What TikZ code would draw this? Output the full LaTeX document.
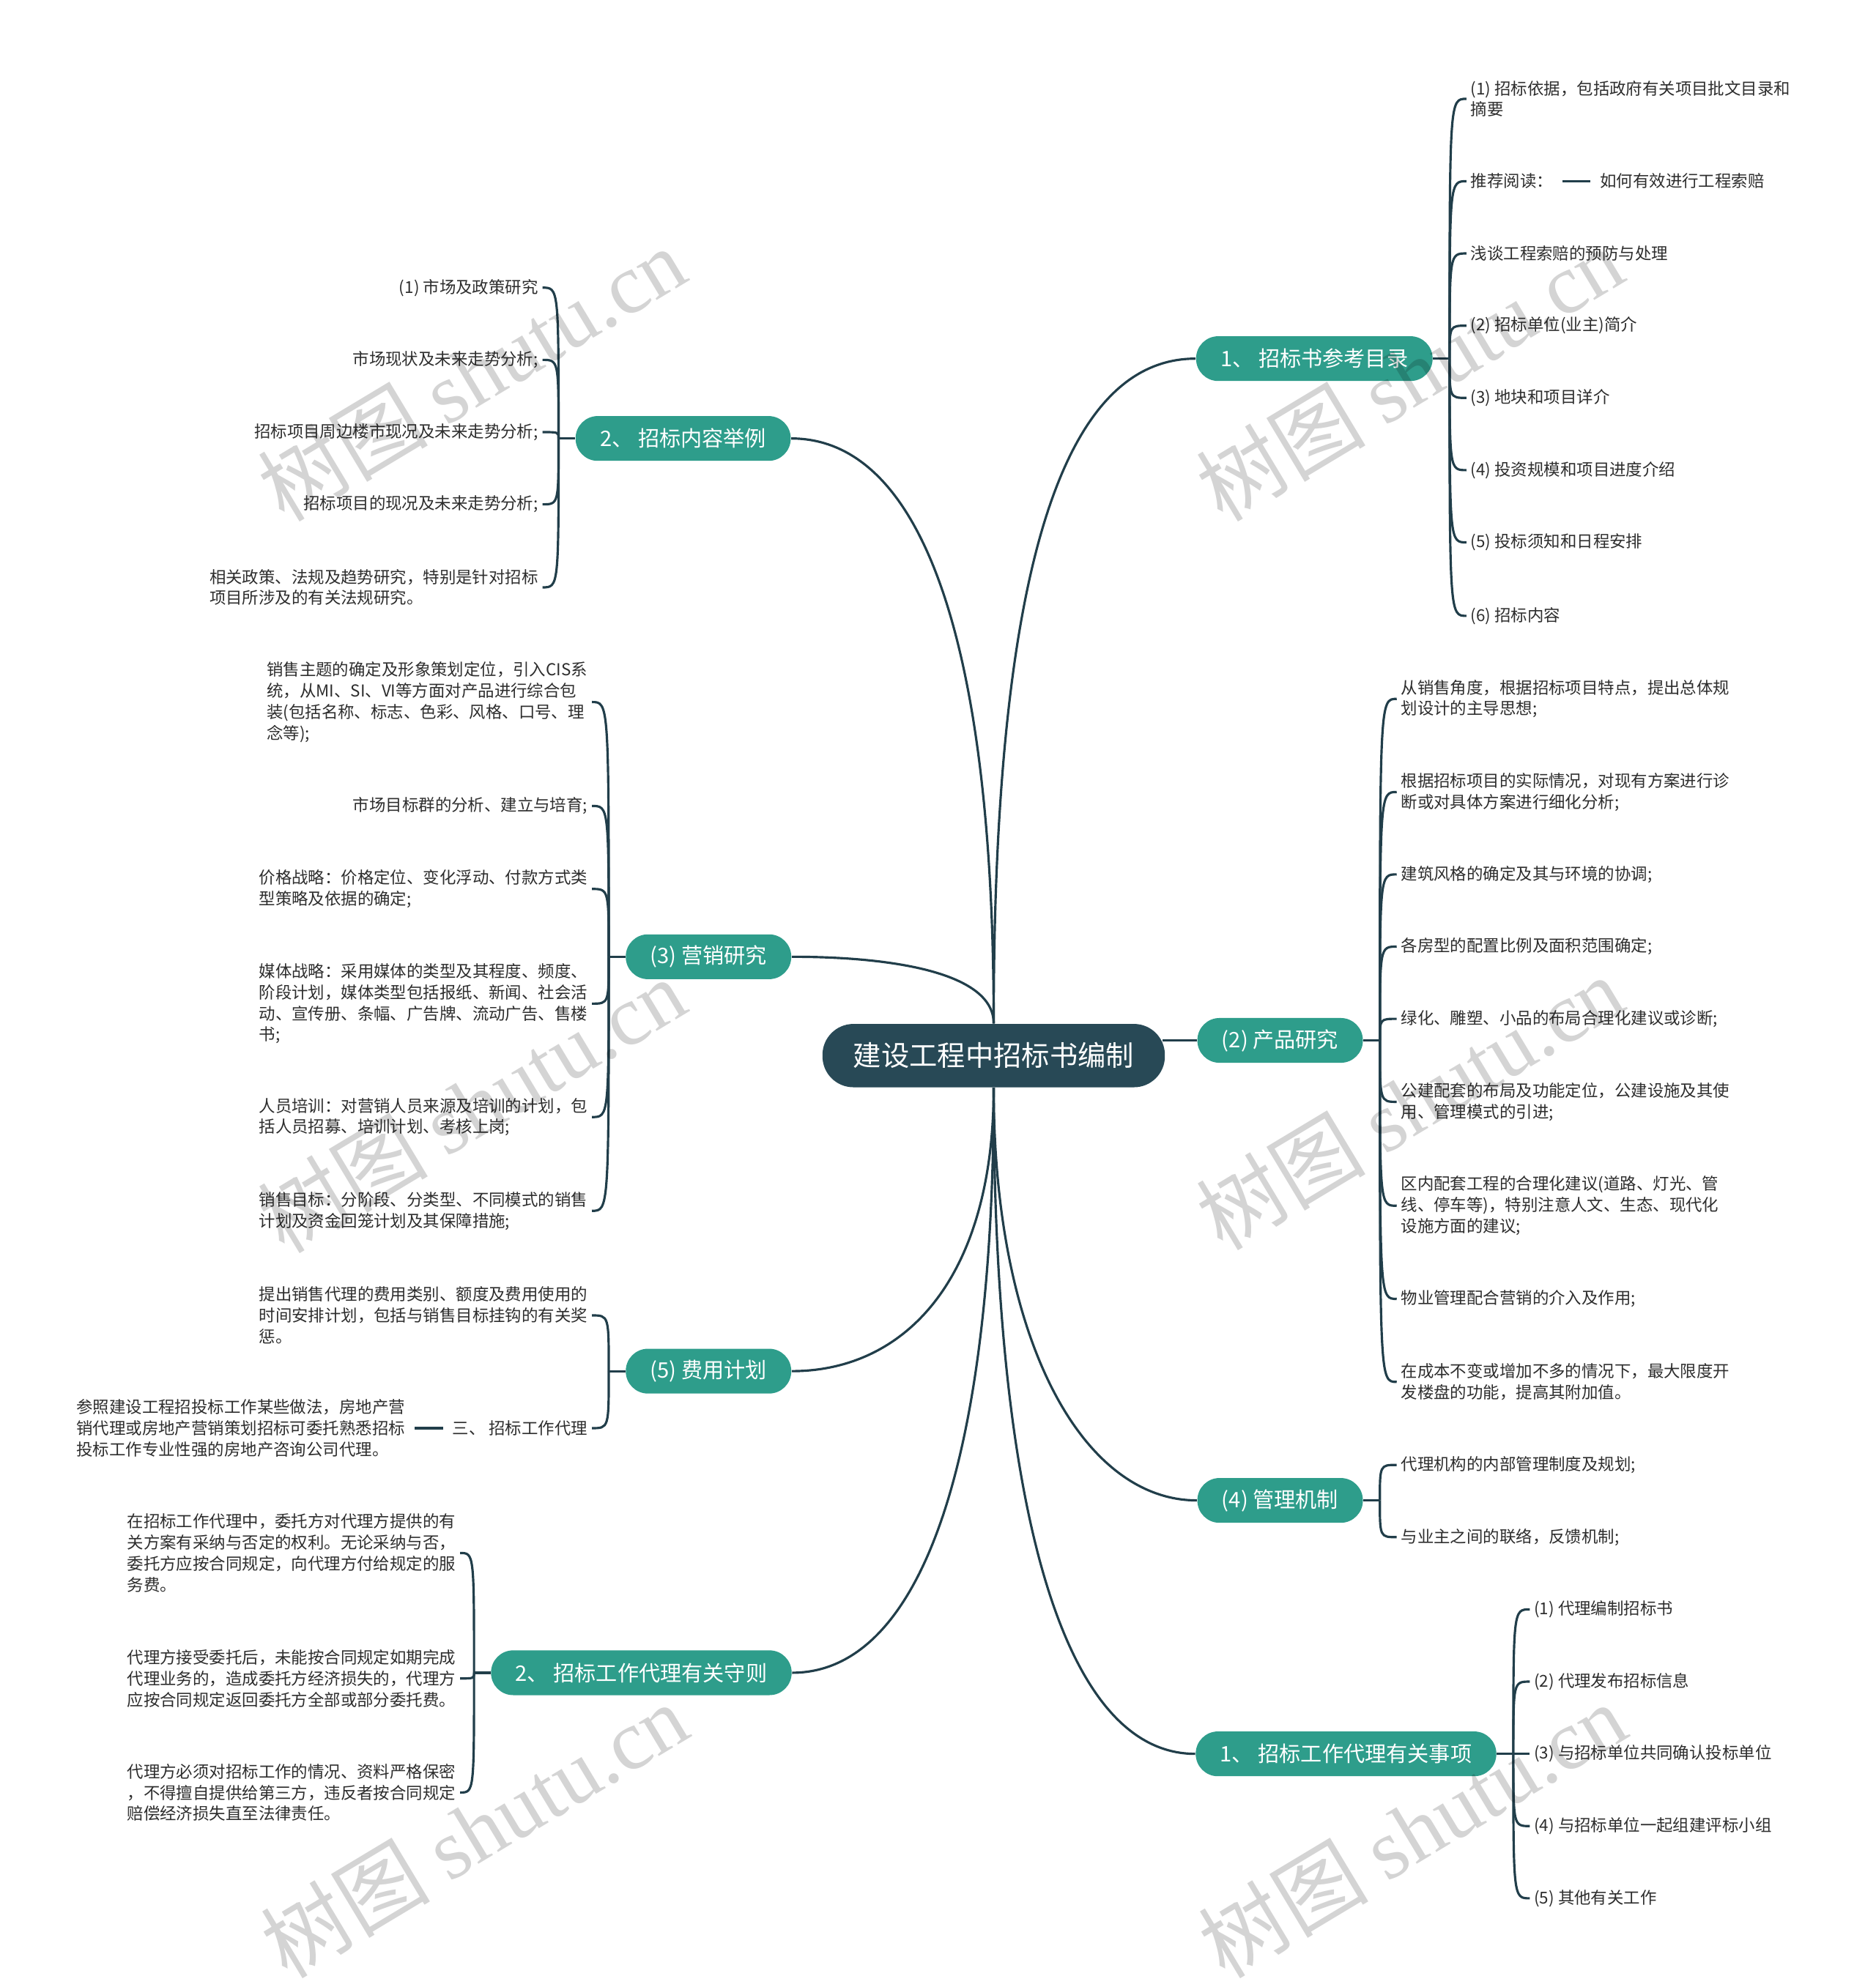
\documentclass[tikz,border=0pt]{standalone}
\usepackage{fontspec}
\setmainfont{Noto Sans CJK SC}
\newfontfamily\wmlatin{Liberation Serif}
\usetikzlibrary{positioning}
\definecolor{slate}{RGB}{40,73,86}
\definecolor{jade}{RGB}{46,157,139}
\definecolor{wire}{RGB}{33,62,74}
\definecolor{ink}{RGB}{45,45,45}
\tikzset{
  root/.style={fill=slate,text=white,rounded corners=12pt,minimum height=24.6pt,
    inner xsep=12pt,inner ysep=0pt,font=\fontsize{10.9}{13}\selectfont},
  topic/.style={fill=jade,text=white,rounded corners=8.6pt,minimum height=17.4pt,
    inner xsep=9.5pt,inner ysep=0pt,font=\fontsize{8.3}{10}\selectfont},
  leaf/.style={text=ink,inner sep=1.5pt,align=left,font=\fontsize{6.38}{8.2}\selectfont},
  leaf r/.style={leaf,anchor=west},
  leaf l/.style={leaf,anchor=east},
  link/.style={draw=wire,line width=0.9pt},
  watermark/.style={rotate=31,text=black,text opacity=0.17,font=\fontsize{33}{36}\selectfont},
}

\begin{document}
\begin{tikzpicture}[x=0.017297cm,y=-0.017297cm]
  \useasboundingbox (0,0) rectangle (1480,1568);

  % centre and main topics
  \node[root] (root) at (784,833) {建设工程中招标书编制};
  \node[topic] (b1) at (1037,283) {1、 招标书参考目录};
  \node[topic] (b2) at (1010,821) {(2) 产品研究};
  \node[topic] (b4) at (1010,1184) {(4) 管理机制};
  \node[topic] (b5) at (1062,1384) {1、 招标工作代理有关事项};
  \node[topic] (l1) at (539,346) {2、 招标内容举例};
  \node[topic] (l2) at (559,755) {(3) 营销研究};
  \node[topic] (l3) at (559,1082) {(5) 费用计划};
  \node[topic] (l4) at (506,1320) {2、 招标工作代理有关守则};

  \draw[link] (root.north) .. controls +(0,-358) and +(-105,0) .. (b1.west);
  \draw[link] (root.north) .. controls +(0,-310) and +(100,0) .. (l1.east);
  \draw[link] (root.north) .. controls +(0,-40) and +(80,0) .. (l2.east);
  \draw[link] ([xshift=-1pt]root.east |- b2.west) -- (b2.west);
  \draw[link] (root.south) .. controls +(0,150) and +(90,0) .. (l3.east);
  \draw[link] (root.south) .. controls +(0,300) and +(100,0) .. (l4.east);
  \draw[link] (root.south) .. controls +(0,200) and +(-90,0) .. (b4.west);
  \draw[link] (root.south) .. controls +(0,330) and +(-105,0) .. (b5.west);

  % 1、 招标书参考目录
  \node[leaf r] (a1) at (1157,78) {(1) 招标依据，包括政府有关项目批文目录和\\摘要};
  \node[leaf r] (a2) at (1157,143) {推荐阅读：};
  \node[leaf r] (a2r) at (1259,143) {如何有效进行工程索赔};
  \node[leaf r] (a3) at (1157,200) {浅谈工程索赔的预防与处理};
  \node[leaf r] (a4) at (1157,257) {(2) 招标单位(业主)简介};
  \node[leaf r] (a5) at (1157,314) {(3) 地块和项目详介};
  \node[leaf r] (a6) at (1157,371) {(4) 投资规模和项目进度介绍};
  \node[leaf r] (a7) at (1157,428) {(5) 投标须知和日程安排};
  \node[leaf r] (a8) at (1157,486) {(6) 招标内容};
  \coordinate (b1j) at ([xshift=6.4pt]b1.east);
  \draw[link] (b1.east) -- (b1j);
  \foreach \i in {1,...,8}
    \draw[link] (b1j) .. controls (b1j |- a\i.west) .. (a\i.west);
  \draw[link,shorten <=2pt,shorten >=2pt] (a2.east) -- (a2r.west);

  % (2) 产品研究
  \node[leaf r] (p1) at (1102,551.5) {从销售角度，根据招标项目特点，提出总体规\\划设计的主导思想;};
  \node[leaf r] (p2) at (1102,625) {根据招标项目的实际情况，对现有方案进行诊\\断或对具体方案进行细化分析;};
  \node[leaf r] (p3) at (1102,690) {建筑风格的确定及其与环境的协调;};
  \node[leaf r] (p4) at (1102,747) {各房型的配置比例及面积范围确定;};
  \node[leaf r] (p5) at (1102,804) {绿化、雕塑、小品的布局合理化建议或诊断;};
  \node[leaf r] (p6) at (1102,869.5) {公建配套的布局及功能定位，公建设施及其使\\用、管理模式的引进;};
  \node[leaf r] (p7) at (1102,951.5) {区内配套工程的合理化建议(道路、灯光、管\\线、停车等)，特别注意人文、生态、现代化\\设施方面的建议;};
  \node[leaf r] (p8) at (1102,1025) {物业管理配合营销的介入及作用;};
  \node[leaf r] (p9) at (1102,1090.5) {在成本不变或增加不多的情况下，最大限度开\\发楼盘的功能，提高其附加值。};
  \coordinate (b2j) at ([xshift=6.4pt]b2.east);
  \draw[link] (b2.east) -- (b2j);
  \foreach \i in {1,...,9}
    \draw[link] (b2j) .. controls (b2j |- p\i.west) .. (p\i.west);

  % (4) 管理机制
  \node[leaf r] (m1) at (1102,1156) {代理机构的内部管理制度及规划;};
  \node[leaf r] (m2) at (1102,1213) {与业主之间的联络，反馈机制;};
  \coordinate (b4j) at ([xshift=6.4pt]b4.east);
  \draw[link] (b4.east) -- (b4j);
  \foreach \i in {1,2}
    \draw[link] (b4j) .. controls (b4j |- m\i.west) .. (m\i.west);

  % 1、 招标工作代理有关事项
  \node[leaf r] (e1) at (1207,1270) {(1) 代理编制招标书};
  \node[leaf r] (e2) at (1207,1327) {(2) 代理发布招标信息};
  \node[leaf r] (e3) at (1207,1384) {(3) 与招标单位共同确认投标单位};
  \node[leaf r] (e4) at (1207,1441) {(4) 与招标单位一起组建评标小组};
  \node[leaf r] (e5) at (1207,1498) {(5) 其他有关工作};
  \coordinate (b5j) at ([xshift=6.4pt]b5.east);
  \draw[link] (b5.east) -- (b5j);
  \foreach \i in {1,...,5}
    \draw[link] (b5j) .. controls (b5j |- e\i.west) .. (e\i.west);

  % 2、 招标内容举例
  \node[leaf l] (c1) at (428,227) {(1) 市场及政策研究};
  \node[leaf l] (c2) at (428,284) {市场现状及未来走势分析;};
  \node[leaf l] (c3) at (428,341) {招标项目周边楼市现况及未来走势分析;};
  \node[leaf l] (c4) at (428,398) {招标项目的现况及未来走势分析;};
  \node[leaf l] (c5) at (428,463.5) {相关政策、法规及趋势研究，特别是针对招标\\项目所涉及的有关法规研究。};
  \coordinate (l1j) at ([xshift=-6.4pt]l1.west);
  \draw[link] (l1.west) -- (l1j);
  \foreach \i in {1,...,5}
    \draw[link] (l1j) .. controls (l1j |- c\i.east) .. (c\i.east);

  % (3) 营销研究
  \node[leaf l] (s1) at (467,554) {销售主题的确定及形象策划定位，引入CIS系\\统，从MI、SI、VI等方面对产品进行综合包\\装(包括名称、标志、色彩、风格、口号、理\\念等);};
  \node[leaf l] (s2) at (467,636) {市场目标群的分析、建立与培育;};
  \node[leaf l] (s3) at (467,701.5) {价格战略：价格定位、变化浮动、付款方式类\\型策略及依据的确定;};
  \node[leaf l] (s4) at (467,792) {媒体战略：采用媒体的类型及其程度、频度、\\阶段计划，媒体类型包括报纸、新闻、社会活\\动、宣传册、条幅、广告牌、流动广告、售楼\\书;};
  \node[leaf l] (s5) at (467,881.5) {人员培训：对营销人员来源及培训的计划，包\\括人员招募、培训计划、考核上岗;};
  \node[leaf l] (s6) at (467,955.5) {销售目标：分阶段、分类型、不同模式的销售\\计划及资金回笼计划及其保障措施;};
  \coordinate (l2j) at ([xshift=-6.4pt]l2.west);
  \draw[link] (l2.west) -- (l2j);
  \foreach \i in {1,...,6}
    \draw[link] (l2j) .. controls (l2j |- s\i.east) .. (s\i.east);

  % (5) 费用计划
  \node[leaf l] (f1) at (467,1038) {提出销售代理的费用类别、额度及费用使用的\\时间安排计划，包括与销售目标挂钩的有关奖\\惩。};
  \node[leaf l] (f2) at (467,1127) {三、 招标工作代理};
  \node[leaf l] (f2x) at (323,1127) {参照建设工程招投标工作某些做法，房地产营\\销代理或房地产营销策划招标可委托熟悉招标\\投标工作专业性强的房地产咨询公司代理。};
  \coordinate (l3j) at ([xshift=-6.4pt]l3.west);
  \draw[link] (l3.west) -- (l3j);
  \foreach \i in {1,2}
    \draw[link] (l3j) .. controls (l3j |- f\i.east) .. (f\i.east);
  \draw[link,shorten <=2pt,shorten >=2pt] (f2.west) -- (f2x.east);

  % 2、 招标工作代理有关守则
  \node[leaf l] (r1) at (363,1225.5) {在招标工作代理中，委托方对代理方提供的有\\关方案有采纳与否定的权利。无论采纳与否，\\委托方应按合同规定，向代理方付给规定的服\\务费。};
  \node[leaf l] (r2) at (363,1324.5) {代理方接受委托后，未能按合同规定如期完成\\代理业务的，造成委托方经济损失的，代理方\\应按合同规定返回委托方全部或部分委托费。};
  \node[leaf l] (r3) at (363,1414.5) {代理方必须对招标工作的情况、资料严格保密\\，不得擅自提供给第三方，违反者按合同规定\\赔偿经济损失直至法律责任。};
  \coordinate (l4j) at ([xshift=-6.4pt]l4.west);
  \draw[link] (l4.west) -- (l4j);
  \foreach \i in {1,2,3}
    \draw[link] (l4j) .. controls (l4j |- r\i.east) .. (r\i.east);

  % site marks
  \foreach \wx/\wy [count=\k] in {372/295,1112/295,372/872,1112/870,374/1444,1114/1444}
    \node[watermark] (wm\k) at (\wx,\wy) {树图 {\wmlatin shutu.cn}};
\end{tikzpicture}
\end{document}
